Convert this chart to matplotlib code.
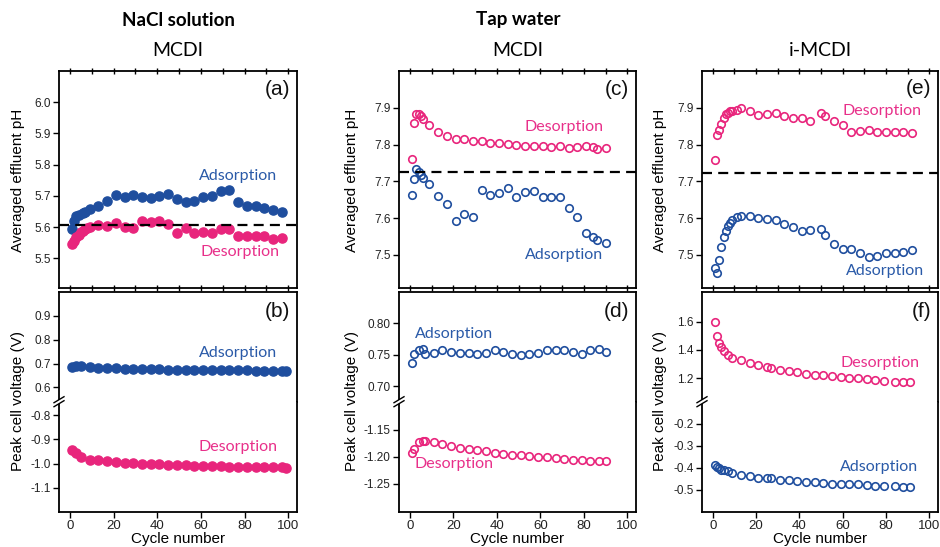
import matplotlib
matplotlib.use("Agg")
import matplotlib.pyplot as plt
from matplotlib.lines import Line2D
from matplotlib.patches import Rectangle
from matplotlib.ticker import MultipleLocator, FormatStrFormatter

plt.rcParams['axes.unicode_minus'] = False
plt.rcParams['font.family'] = ['Liberation Sans', 'DejaVu Sans']

BLUE = "#1f4e9e"
PINK = "#e8257c"
TXT_BLUE = "#2a5aa8"
TXT_PINK = "#e8308a"
LABEL_FONT = ['Lato', 'DejaVu Sans']

# ---------------- data ----------------
# (a) NaCl, MCDI, averaged effluent pH
a_ads_x = [1, 2, 3, 4, 6, 7, 9, 13, 17, 21, 25, 29, 33, 37, 41, 45, 49, 53, 57, 61, 65, 69, 73, 77, 81, 85, 89, 93, 97]
a_ads_y = [5.593, 5.619, 5.635, 5.639, 5.644, 5.650, 5.657,
           5.669, 5.684, 5.703, 5.697, 5.703, 5.697, 5.694, 5.700, 5.707, 5.690, 5.679, 5.683,
           5.697, 5.700, 5.715, 5.720, 5.679, 5.669, 5.669, 5.661, 5.656, 5.649]
a_des_x = [1, 2, 3, 4, 5, 6, 7, 8, 9, 13, 17, 21, 25, 29, 33, 37, 41, 45, 49, 53, 57, 61, 65, 69, 73, 77, 81, 85, 89, 93, 97]
a_des_y = [5.545, 5.556, 5.567, 5.576, 5.583, 5.589, 5.593, 5.596, 5.599,
           5.607, 5.603, 5.614, 5.599, 5.598, 5.618, 5.616, 5.619, 5.611, 5.582, 5.596, 5.580,
           5.584, 5.581, 5.595, 5.595, 5.571, 5.570, 5.571, 5.572, 5.562, 5.565]
a_ref = 5.607

# (b) NaCl, MCDI, peak cell voltage
b_x = [1, 3, 5, 9, 13, 17, 21, 25, 29, 33, 37, 41, 45, 49, 53, 57, 61, 65, 69, 73, 77, 81, 85, 89, 93, 97, 99]
b_ads_y = [0.686, 0.688, 0.688, 0.685, 0.683, 0.681, 0.680, 0.679, 0.678, 0.677, 0.676, 0.676, 0.675, 0.675,
           0.674, 0.673, 0.673, 0.672, 0.672, 0.672, 0.671, 0.671, 0.670, 0.670, 0.670, 0.670, 0.670]
b_des_y = [-0.943, -0.957, -0.975, -0.986, -0.987, -0.990, -0.993, -0.996, -0.998, -1.000, -1.002, -1.004,
           -1.005, -1.007, -1.008, -1.009, -1.010, -1.011, -1.012, -1.013, -1.013, -1.014, -1.014, -1.015,
           -1.015, -1.016, -1.017]

# (c) Tap water, MCDI, averaged effluent pH
c_x = [1, 2, 3, 4, 5, 6, 9, 13, 17, 21, 25, 29, 33, 37, 41, 45, 49, 53, 57, 61, 65, 69, 73, 77, 81, 84, 86, 90]
c_des_y = [7.761, 7.859, 7.883, 7.883, 7.879, 7.870, 7.852,
           7.835, 7.824, 7.814, 7.814, 7.809, 7.809, 7.804, 7.804, 7.802, 7.800, 7.797, 7.796,
           7.795, 7.793, 7.795, 7.790, 7.793, 7.795, 7.793, 7.789, 7.790]
c_ads_y = [7.664, 7.707, 7.733, 7.726, 7.717, 7.708, 7.694,
           7.661, 7.639, 7.592, 7.611, 7.602, 7.676, 7.664, 7.668, 7.682, 7.658, 7.671, 7.675,
           7.657, 7.657, 7.657, 7.628, 7.603, 7.559, 7.550, 7.541, 7.533]
c_ref = 7.726

# (d) Tap water, MCDI, peak cell voltage
d_x = [1, 2, 4, 6, 7, 11, 15, 19, 23, 27, 31, 35, 39, 43, 47, 51, 55, 59, 63, 67, 71, 75, 79, 83, 87, 90]
d_ads_y = [0.7365, 0.751, 0.757, 0.759, 0.751, 0.753, 0.757, 0.755, 0.753, 0.753, 0.7505, 0.753, 0.757,
           0.755, 0.7505, 0.7495, 0.751, 0.753, 0.757, 0.758, 0.758, 0.754, 0.751, 0.757, 0.759, 0.754]
d_des_y = [-1.1926, -1.185, -1.173, -1.170, -1.170, -1.173, -1.177, -1.180, -1.183, -1.185, -1.188, -1.190,
           -1.1926, -1.194, -1.196, -1.197, -1.199, -1.200, -1.201, -1.202, -1.204, -1.205, -1.206, -1.207,
           -1.208, -1.208]

# (e) Tap water, i-MCDI, averaged effluent pH
e_x = [1, 2, 3, 4, 5, 6, 7, 8, 9, 11, 13, 17, 21, 25, 29, 33, 37, 41, 45, 50, 52, 56, 60, 64, 68, 72, 76, 80, 84, 88, 92]
e_des_y = [7.757, 7.827, 7.840, 7.856, 7.872, 7.883, 7.886, 7.890, 7.892, 7.894, 7.900,
           7.892, 7.880, 7.883, 7.886, 7.877, 7.873, 7.871, 7.864,
           7.885, 7.877,
           7.864, 7.854, 7.835, 7.836, 7.839, 7.833, 7.835, 7.835, 7.835, 7.832]
e_ads_y = [7.464, 7.450, 7.486, 7.522, 7.548, 7.565, 7.578, 7.586, 7.596, 7.604, 7.605,
           7.605, 7.600, 7.597, 7.595, 7.584, 7.577, 7.564, 7.568,
           7.571, 7.553,
           7.530, 7.517, 7.515, 7.504, 7.495, 7.497, 7.504, 7.504, 7.509, 7.512]
e_ref = 7.723

# (f) Tap water, i-MCDI, peak cell voltage
f_x = [1, 2, 3, 4, 5, 7, 9, 13, 17, 21, 25, 27, 31, 35, 39, 43, 47, 51, 55, 59, 63, 67, 71, 75, 79, 84, 88, 91]
f_des_y = [1.598, 1.496, 1.450, 1.420, 1.390, 1.366, 1.345, 1.325, 1.308, 1.292, 1.281, 1.274, 1.260, 1.250,
           1.241, 1.232, 1.225, 1.220, 1.213, 1.206, 1.204, 1.200, 1.195, 1.188, 1.181, 1.174, 1.172, 1.170]
f_ads_y = [-0.387, -0.395, -0.402, -0.408, -0.410, -0.416, -0.424, -0.431, -0.439, -0.445, -0.448, -0.448,
           -0.454, -0.457, -0.460, -0.462, -0.465, -0.469, -0.471, -0.471, -0.472, -0.475, -0.478, -0.480,
           -0.482, -0.482, -0.485, -0.488]

x_ticks = [0, 20, 40, 60, 80, 100]

# ---------------- layout ----------------
W, H = 940, 547
fig = plt.figure(figsize=(W / 100, H / 100), dpi=100)


def rect(l, t, r, b):
    return [l / W, 1 - b / H, (r - l) / W, (b - t) / H]


cols = [(59, 297), (399, 636), (702, 938)]
TOP_T, TOP_B = 71, 288
BOT_T, BRK, BOT_B = 292, 401.7, 512
XLIM = (-5, 104)
SPW = 1.3


def style_common(ax):
    ax.set_xlim(*XLIM)
    for s in ax.spines.values():
        s.set_linewidth(SPW)
    ax.tick_params(axis='y', direction='out', length=4, width=1.0, labelsize=8.5, pad=2,
                   labelcolor='#222222')
    ax.tick_params(axis='x', labelsize=9.5, labelcolor='#222222')


def top_axes(col):
    l, r = cols[col]
    ax = fig.add_axes(rect(l, TOP_T, r, TOP_B))
    style_common(ax)
    ax.xaxis.set_major_locator(MultipleLocator(20))
    ax.xaxis.set_minor_locator(MultipleLocator(10))
    ax.tick_params(axis='x', which='both', direction='inout', bottom=True, top=True,
                   labelbottom=False, length=4, width=1.0)
    ax.yaxis.set_minor_locator(plt.NullLocator())
    return ax


def bottom_axes(col):
    l, r = cols[col]
    up = fig.add_axes(rect(l, BOT_T, r, BRK))
    lo = fig.add_axes(rect(l, BRK, r, BOT_B))
    for ax in (up, lo):
        style_common(ax)
        ax.set_xticks(x_ticks)
    up.spines['bottom'].set_visible(False)
    lo.spines['top'].set_visible(False)
    up.tick_params(axis='x', which='both', bottom=False, top=False, labelbottom=False)
    lo.tick_params(axis='x', direction='out', length=4, width=1.0, top=False, pad=2)
    # break marks on the left spine
    x0 = l / W
    yb = 1 - BRK / H
    dx, dy = 5 / W, 3 / H
    fig.patches.append(Rectangle((x0 - 2 / W, yb - 2.2 / H), 4 / W, 4.4 / H, transform=fig.transFigure,
                                 facecolor='white', edgecolor='none', zorder=20))
    for off in (-2.0 / H, 2.0 / H):
        fig.lines.append(Line2D([x0 - dx, x0 + dx], [yb + off - dy, yb + off + dy],
                                transform=fig.transFigure, color='black', lw=1.0, zorder=21))
    return up, lo


def filled(ax, x, y, color):
    ax.plot(x, y, 'o', ms=6.6, color=color, mec=color, zorder=3, clip_on=False)


def hollow(ax, x, y, color):
    ax.plot(x, y, 'o', ms=5.4, mfc='none', mec=color, mew=1.2, zorder=3, clip_on=False)


def note(ax, x, y, s, color, size=11.5):
    ax.text(x, y, s, color=color, fontsize=size, ha='center', va='center', family=LABEL_FONT)


def panel_label(ax, s, yfrac):
    ax.text(0.97, yfrac, s, transform=ax.transAxes, ha='right', va='center', fontsize=15,
            color='#111111')


# ---- (a)
ax_a = top_axes(0)
filled(ax_a, a_ads_x, a_ads_y, BLUE)
filled(ax_a, a_des_x, a_des_y, PINK)
ax_a.axhline(a_ref, color='black', lw=1.6, ls=(0, (4.5, 2.8)), zorder=4)
ax_a.set_ylim(5.405, 6.1)
ax_a.set_yticks([5.5, 5.6, 5.7, 5.8, 5.9, 6.0])
ax_a.yaxis.set_major_formatter(FormatStrFormatter('%.1f'))
note(ax_a, 77, 5.763, 'Adsorption', TXT_BLUE)
note(ax_a, 78, 5.52, 'Desorption', TXT_PINK)
panel_label(ax_a, '(a)', 0.913)

# ---- (b)
b_up, b_lo = bottom_axes(0)
filled(b_up, b_x, b_ads_y, BLUE)
filled(b_lo, b_x, b_des_y, PINK)
b_up.set_ylim(0.54, 1.0)
b_up.set_yticks([0.6, 0.7, 0.8, 0.9])
b_lo.set_ylim(-1.2, -0.745)
b_lo.set_yticks([-1.1, -1.0, -0.9, -0.8])
b_up.yaxis.set_major_formatter(FormatStrFormatter('%.1f'))
b_lo.yaxis.set_major_formatter(FormatStrFormatter('%.1f'))
note(b_up, 77, 0.746, 'Adsorption', TXT_BLUE)
note(b_lo, 77, -0.932, 'Desorption', TXT_PINK)
panel_label(b_up, '(b)', 0.82)

# ---- (c)
ax_c = top_axes(1)
hollow(ax_c, c_x, c_des_y, PINK)
hollow(ax_c, c_x, c_ads_y, BLUE)
ax_c.axhline(c_ref, color='black', lw=1.6, ls=(0, (4.5, 2.8)), zorder=4)
ax_c.set_ylim(7.41, 8.0)
ax_c.set_yticks([7.5, 7.6, 7.7, 7.8, 7.9])
ax_c.yaxis.set_major_formatter(FormatStrFormatter('%.1f'))
note(ax_c, 71, 7.849, 'Desorption', TXT_PINK)
note(ax_c, 71, 7.500, 'Adsorption', TXT_BLUE)
panel_label(ax_c, '(c)', 0.913)

# ---- (d)
d_up, d_lo = bottom_axes(1)
hollow(d_up, d_x, d_ads_y, BLUE)
hollow(d_lo, d_x, d_des_y, PINK)
d_up.set_ylim(0.675, 0.85)
d_up.set_yticks([0.70, 0.75, 0.80])
d_lo.set_ylim(-1.302, -1.098)
d_lo.set_yticks([-1.25, -1.20, -1.15])
d_up.yaxis.set_major_formatter(FormatStrFormatter('%.2f'))
d_lo.yaxis.set_major_formatter(FormatStrFormatter('%.2f'))
note(d_up, 20.4, 0.783, 'Adsorption', TXT_BLUE)
note(d_lo, 20.4, -1.214, 'Desorption', TXT_PINK)
panel_label(d_up, '(d)', 0.82)

# ---- (e)
ax_e = top_axes(2)
hollow(ax_e, e_x, e_des_y, PINK)
hollow(ax_e, e_x, e_ads_y, BLUE)
ax_e.axhline(e_ref, color='black', lw=1.6, ls=(0, (4.5, 2.8)), zorder=4)
ax_e.set_ylim(7.41, 8.0)
ax_e.set_yticks([7.5, 7.6, 7.7, 7.8, 7.9])
ax_e.yaxis.set_major_formatter(FormatStrFormatter('%.1f'))
note(ax_e, 78.3, 7.892, 'Desorption', TXT_PINK)
note(ax_e, 79.4, 7.455, 'Adsorption', TXT_BLUE)
panel_label(ax_e, '(e)', 0.92)

# ---- (f)
f_up, f_lo = bottom_axes(2)
hollow(f_up, f_x, f_des_y, PINK)
hollow(f_lo, f_x, f_ads_y, BLUE)
f_up.set_ylim(1.033, 1.81)
f_up.set_yticks([1.2, 1.4, 1.6])
f_lo.set_ylim(-0.6, -0.1)
f_lo.set_yticks([-0.5, -0.4, -0.3, -0.2])
f_up.yaxis.set_major_formatter(FormatStrFormatter('%.1f'))
f_lo.yaxis.set_major_formatter(FormatStrFormatter('%.1f'))
note(f_up, 77.2, 1.306, 'Desorption', TXT_PINK)
note(f_lo, 76.6, -0.395, 'Adsorption', TXT_BLUE)
panel_label(f_up, '(f)', 0.82)

# ---------------- figure texts ----------------
ylab_x = [18, 352, 660]
for i, (l, r) in enumerate(cols):
    cx = (l + r) / 2 / W
    fig.text(ylab_x[i] / W, 1 - 180 / H, 'Averaged effluent pH', rotation=90, ha='center', va='center',
             fontsize=11)
    fig.text(ylab_x[i] / W, 1 - 401 / H, 'Peak cell voltage (V)', rotation=90, ha='center', va='center',
             fontsize=11)
    fig.text(cx, 1 - 539.5 / H, 'Cycle number', ha='center', va='center', fontsize=11)

fig.text(178 / W, 1 - 20 / H, 'NaCl solution', ha='center', va='center', fontsize=13.5,
         fontweight='bold', family=LABEL_FONT)
fig.text(518 / W, 1 - 20 / H, 'Tap water', ha='center', va='center', fontsize=13.5,
         fontweight='bold', family=LABEL_FONT)
fig.text(178 / W, 1 - 50 / H, 'MCDI', ha='center', va='center', fontsize=14, family=LABEL_FONT)
fig.text(518 / W, 1 - 50 / H, 'MCDI', ha='center', va='center', fontsize=14, family=LABEL_FONT)
fig.text(820 / W, 1 - 50 / H, 'i-MCDI', ha='center', va='center', fontsize=14, family=LABEL_FONT)

fig.savefig('out.png', dpi=100)
